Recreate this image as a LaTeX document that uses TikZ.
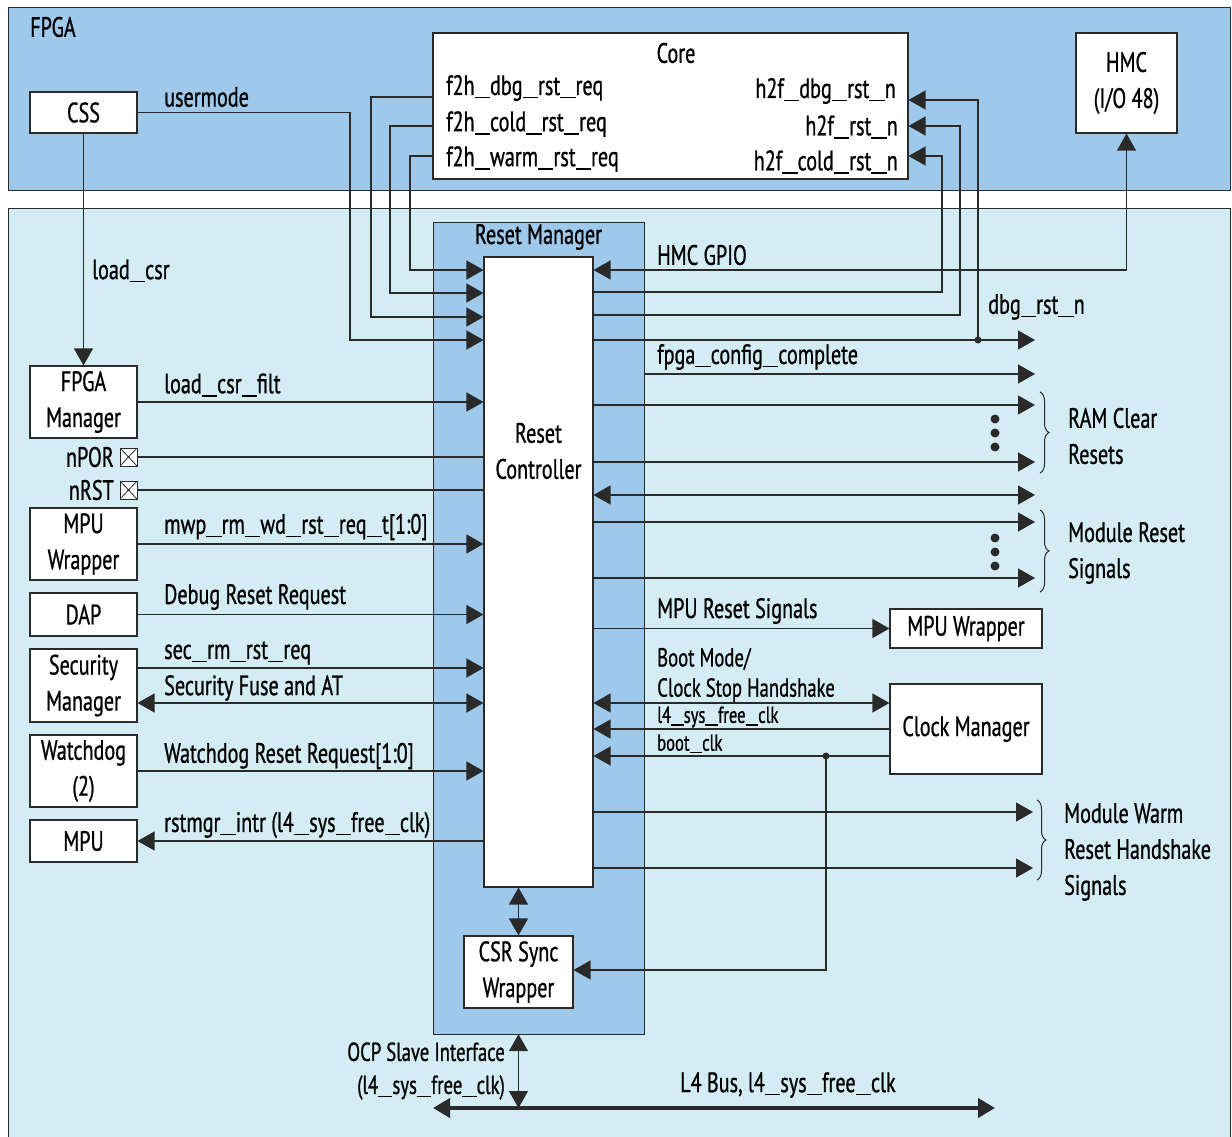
\documentclass[tikz,border=0pt]{standalone}
\usepackage{fontspec}
\setmainfont{PT Sans}[FakeStretch=0.72, FakeBold=0.8]
\usetikzlibrary{arrows.meta,decorations.pathreplacing,calc}
\newcommand{\us}{\rule[-0.12em]{0.55em}{0.05em}}
\definecolor{fpgablue}{HTML}{9EC9EA}
\definecolor{socblue}{HTML}{D4EDF5}
\definecolor{ln}{HTML}{2A2A2A}
\tikzset{
  >={Triangle[length=17pt,width=19pt]},
  conn/.style={draw=ln, line width=1.2pt},
  box/.style={draw=ln, fill=white, line width=1.1pt, inner sep=0pt, align=center,
    font=\fontsize{28}{36}\selectfont},
  lbl/.style={inner sep=0pt, anchor=west, font=\fontsize{28}{30}\selectfont},
  rlbl/.style={inner sep=0pt, anchor=east, font=\fontsize{28}{30}\selectfont},
  slbl/.style={inner sep=0pt, anchor=west, font=\fontsize{26}{28}\selectfont},
  pinbox/.style={draw=ln, fill=white, minimum width=17pt, minimum height=18pt, inner sep=0pt,
    line width=0.8pt,
    path picture={\draw[line width=0.8pt] (path picture bounding box.south west) -- (path picture bounding box.north east)
      (path picture bounding box.north west) -- (path picture bounding box.south east);}},
  dotc/.style={fill=ln, circle, inner sep=0pt, minimum size=7pt},
  bigdot/.style={fill=ln, circle, inner sep=0pt, minimum size=9pt},
  brc/.style={draw=ln, line width=1pt, decorate, decoration={brace, amplitude=9pt}},
}
\begin{document}
\begin{tikzpicture}[x=1pt,y=-1pt]
\useasboundingbox (0,0) rectangle (1232,1137);
\begin{scope}
\clip (0,0) rectangle (1232,1137);
% regions
\path[fill=fpgablue, draw=ln, line width=1pt] (8,8) rectangle (1230,190);
\path[fill=socblue, draw=ln, line width=1pt] (8,208) rectangle (1230,1150);
\end{scope}
\node[lbl] (fpgat) at (30,27) {FPGA};

% reset manager
\node[draw=ln, fill=fpgablue, minimum width=211pt, minimum height=812pt, inner sep=0pt] (rm) at (538.5,628) {};
\node[inner sep=0pt, font=\fontsize{28}{30}\selectfont] (rmt) at (538.5,237) {Reset Manager};
\node[box, minimum width=109pt, minimum height=630pt] (rc) at (538.5,572) {};
\node[inner sep=0pt, align=center, font=\fontsize{28}{36}\selectfont] (rct) at (538.5,451) {Reset\\Controller};
\node[box, minimum width=109pt, minimum height=72pt] (csr) at (518.5,972) {CSR Sync\\Wrapper};

% top boxes
\node[box, minimum width=475pt, minimum height=146pt] (core) at (670.5,106) {};
\node[inner sep=0pt, font=\fontsize{28}{30}\selectfont] (coret) at (676,53) {Core};
\node[lbl] (c1) at (446,88) {f2h\us dbg\us rst\us req};
\node[lbl] (c2) at (446,124) {f2h\us cold\us rst\us req};
\node[lbl] (c3) at (446,159) {f2h\us warm\us rst\us req};
\node[rlbl] (c4) at (896,91) {h2f\us dbg\us rst\us n};
\node[rlbl] (c5) at (898,127) {h2f\us rst\us n};
\node[rlbl] (c6) at (898,162) {h2f\us cold\us rst\us n};
\node[box, minimum width=101pt, minimum height=100pt] (hmc) at (1126.5,83) {HMC\\(I/O 48)};
\node[box, minimum width=107pt, minimum height=41pt] (css) at (83.5,112.5) {CSS};

% left boxes
\node[box, minimum width=107pt, minimum height=72pt] (fm) at (83.5,402) {FPGA\\Manager};
\node[pinbox] (npor) at (128.5,457) {};
\node[rlbl] (nport) at (114,457) {nPOR};
\node[pinbox] (nrst) at (128.5,490) {};
\node[rlbl] (nrstt) at (114,490) {nRST};
\node[box, minimum width=107pt, minimum height=72pt] (mpuw) at (83.5,544) {MPU\\Wrapper};
\node[box, minimum width=107pt, minimum height=43pt] (dap) at (83.5,614.5) {DAP};
\node[box, minimum width=107pt, minimum height=73pt] (sm) at (83.5,685.5) {Security\\Manager};
\node[box, minimum width=107pt, minimum height=72pt] (wd) at (83.5,771) {Watchdog\\(2)};
\node[box, minimum width=107pt, minimum height=42pt] (mpu) at (83.5,841) {MPU};

% right boxes
\node[box, minimum width=152pt, minimum height=39pt] (mpuw2) at (966,628.5) {MPU Wrapper};
\node[box, minimum width=152pt, minimum height=90pt] (cm) at (966,729) {Clock Manager};

% free ends
\coordinate (o1) at (1035,340);
\coordinate (o2) at (1035,374);
\coordinate (o3) at (1035,405);
\coordinate (o4) at (1035,462);
\coordinate (o5) at (1035,495);
\coordinate (o6) at (1035,522);
\coordinate (o7) at (1035,578);
\coordinate (o8) at (1033,812);
\coordinate (o9) at (1033,868);
\coordinate (busL) at (433,1108);
\coordinate (busR) at (995,1108);
\coordinate (busO) at (518.5,1108);

% labels
\node[lbl] (um) at (164,97) {usermode};
\node[lbl] (lc) at (92,271) {load\us csr};
\node[lbl] (lcf) at (164,385) {load\us csr\us filt};
\node[lbl] (mwp) at (164,527) {mwp\us rm\us wd\us rst\us req\us t[1:0]};
\node[lbl] (drr) at (164,597) {Debug Reset Request};
\node[lbl] (srr) at (164,653) {sec\us rm\us rst\us req};
\node[lbl] (sfa) at (164,688) {Security Fuse and AT};
\node[lbl] (wrr) at (164,756) {Watchdog Reset Request[1:0]};
\node[lbl] (ri) at (164,825) {rstmgr\us intr (l4\us sys\us free\us clk)};
\node[lbl] (hg) at (657,255) {HMC GPIO};
\node[lbl] (dr) at (988,307) {dbg\us rst\us n};
\node[lbl] (fcc) at (657,357) {fpga\us config\us complete};
\node[lbl, align=left, font=\fontsize{28}{36}\selectfont] (ram) at (1068,436) {RAM Clear\\Resets};
\node[lbl, align=left, font=\fontsize{28}{36}\selectfont] (mrs) at (1068,553) {Module Reset\\Signals};
\node[lbl] (mrst) at (657,611) {MPU Reset Signals};
\node[slbl] (bm) at (657,659) {Boot Mode/};
\node[slbl] (csh) at (657,690) {Clock Stop Handshake};
\node[slbl, font=\fontsize{23}{25}\selectfont] (l4) at (657,717) {l4\us sys\us free\us clk};
\node[slbl, font=\fontsize{23}{25}\selectfont] (bc) at (657,744) {boot\us clk};
\node[lbl, align=left, font=\fontsize{28}{36}\selectfont] (mw) at (1064,852) {Module Warm\\Reset Handshake\\Signals};
\node[rlbl, align=right, font=\fontsize{26}{33}\selectfont] (ocp) at (505,1071) {OCP Slave Interface\\(l4\us sys\us free\us clk)};
\node[lbl] (l4b) at (680,1085) {L4 Bus, l4\us sys\us free\us clk};

% connectors: left
\draw[conn,->] (css.south) -- (fm.north);
\draw[conn,->] (css.east) -- (350,112.5) |- (rc.west |- 0,340);
\draw[conn,->] (core.west |- 0,97) -- (371,97) |- (rc.west |- 0,317);
\draw[conn,->] (core.west |- 0,126) -- (390,126) |- (rc.west |- 0,293);
\draw[conn,->] (core.west |- 0,156) -- (410,156) |- (rc.west |- 0,270);
\draw[conn,->] (fm.east) -- (fm.east -| rc.west);
\draw[conn] (npor.east) -- (npor.east -| rc.west);
\draw[conn] (nrst.east) -- (nrst.east -| rc.west);
\draw[conn,->] (mpuw.east) -- (mpuw.east -| rc.west);
\draw[conn,->] (dap.east) -- (dap.east -| rc.west);
\draw[conn,->] (sm.east |- 0,668) -- (rc.west |- 0,668);
\draw[conn,<->] (sm.east |- 0,703) -- (rc.west |- 0,703);
\draw[conn,->] (wd.east) -- (wd.east -| rc.west);
\draw[conn,->] (rc.west |- mpu.east) -- (mpu.east);

% connectors: right top
\draw[conn,<->] (rc.east |- 0,270) -- (hmc.south |- 0,270) -- (hmc.south);
\draw[conn,->] (rc.east |- 0,292) -- (942,292) |- (core.east |- 0,156);
\draw[conn,->] (rc.east |- 0,315) -- (960,315) |- (core.east |- 0,126);
\draw[conn,->] (rc.east |- 0,340) -- (o1);
\draw[conn,->] (978,340) |- (core.east |- 0,100);
\node[dotc] (d0) at (978,340) {};
\draw[conn,->] (rm.east |- o2) -- (o2);
\draw[conn,->] (rc.east |- o3) -- (o3);
\draw[conn,->] (rc.east |- o4) -- (o4);
\draw[conn,<->] (rc.east |- o5) -- (o5);
\draw[conn,->] (rc.east |- o6) -- (o6);
\draw[conn,->] (rc.east |- o7) -- (o7);
\foreach \yy [count=\i] in {419,433,447} {\node[bigdot] (ra\i) at (995,\yy) {};}
\foreach \yy [count=\i] in {538,552,566} {\node[bigdot] (rb\i) at (995,\yy) {};}
\draw[brc] (1040,392) -- (1040,473);
\draw[brc] (1040,510) -- (1040,592);
\draw[brc] (1037,800) -- (1037,880);

% right middle
\draw[conn,->] (rc.east |- mpuw2.west) -- (mpuw2.west);
\draw[conn,<->] (rc.east |- 0,703) -- (cm.west |- 0,703);
\draw[conn,->] (cm.west |- 0,729) -- (rc.east |- 0,729);
\draw[conn,->] (cm.west |- 0,756) -- (rc.east |- 0,756);
\draw[conn,->] (826,756) |- (csr.east |- 0,970);
\node[dotc] (d1) at (826,756) {};
\draw[conn,->] (rc.east |- o8) -- (o8);
\draw[conn,->] (rc.east |- o9) -- (o9);

% bottom
\draw[conn,<->] (csr.north |- rc.south) -- (csr.north);
\draw[conn,<->] (csr.north |- rm.south) -- (busO);
\draw[draw=ln, line width=4pt, <->] (busL) -- (busR);
\end{tikzpicture}
\end{document}
